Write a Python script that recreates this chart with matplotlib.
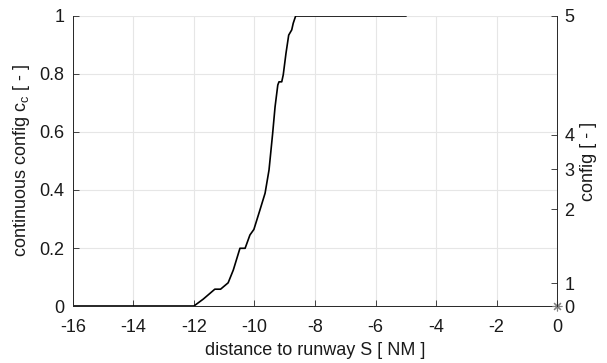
import matplotlib
matplotlib.use("Agg")
import matplotlib.pyplot as plt

plt.rcParams["font.family"] = ["Liberation Sans", "DejaVu Sans"]
plt.rcParams["font.size"] = 13

# continuous configuration along the approach
distance = [-16.0, -12.0, -11.69, -11.31, -11.12, -10.87, -10.70, -10.48, -10.31,
            -10.15, -10.02, -9.82, -9.65, -9.52, -9.40, -9.32, -9.23, -9.19, -9.10,
            -9.05, -8.96, -8.87, -8.77, -8.72, -8.64, -5.0]
cc = [0.0, 0.0, 0.024, 0.058, 0.058, 0.080, 0.124, 0.199, 0.199,
      0.245, 0.264, 0.331, 0.389, 0.469, 0.595, 0.687, 0.762, 0.773, 0.773,
      0.797, 0.871, 0.934, 0.952, 0.975, 1.0, 1.0]

# discrete config steps mapped onto the continuous scale
config_labels = ["0", "1", "2", "3", "4", "5"]
config_pos = [0.0, 0.079, 0.334, 0.472, 0.59, 1.0]

# discrete config point
config_x = [0.0]
config_y = [0.0]

xticks = list(range(-16, 1, 2))
yticks = [0, 0.2, 0.4, 0.6, 0.8, 1]

fig = plt.figure(figsize=(6.07, 3.63), dpi=100)
ax = fig.add_axes([0.120, 0.157, 0.798, 0.799])

ax.plot(distance, cc, color="k", linewidth=1.2)
ax.set_xlim(-16, 0)
ax.set_ylim(0, 1)
ax.set_xticks(xticks)
ax.set_xticklabels([str(t) for t in xticks])
ax.set_yticks(yticks)
ax.set_yticklabels(["0", "0.2", "0.4", "0.6", "0.8", "1"])
ax.grid(True, color="#e6e6e6", linewidth=0.8)
ax.set_axisbelow(True)
ax.tick_params(axis="x", direction="in", length=4, pad=9, colors="#262626",
               labelcolor="#1a1a1a", width=0.6)
ax.tick_params(axis="y", direction="in", length=4, pad=6, colors="#262626",
               labelcolor="#1a1a1a", width=0.6)
for side in ["top", "right"]:
    ax.spines[side].set_visible(False)
for side in ["left", "bottom"]:
    ax.spines[side].set_color("#262626")
    ax.spines[side].set_linewidth(0.7)
ax.set_xlabel("distance to runway S [ NM ]", color="#1a1a1a", labelpad=5)
ax.set_ylabel(r"continuous config c$_\mathregular{c}$ [ - ]", color="#1a1a1a", labelpad=5)

ax2 = ax.twinx()
ax2.set_ylim(0, 1)
ax2.set_yticks(config_pos)
ax2.set_yticklabels(config_labels)
ax2.plot(config_x, config_y, linestyle="none", marker=(8, 2, 0), color="#808080",
         markersize=7, markeredgewidth=0.8, clip_on=False)
ax2.tick_params(direction="in", length=4, pad=5, colors="#262626",
                labelcolor="#1a1a1a", width=0.6)
for side in ["top", "left", "bottom"]:
    ax2.spines[side].set_visible(False)
ax2.spines["right"].set_color("#262626")
ax2.spines["right"].set_linewidth(0.7)
ax2.set_ylabel("config [ - ]", color="#1a1a1a", labelpad=4)

fig.savefig("out.png", dpi=100)
